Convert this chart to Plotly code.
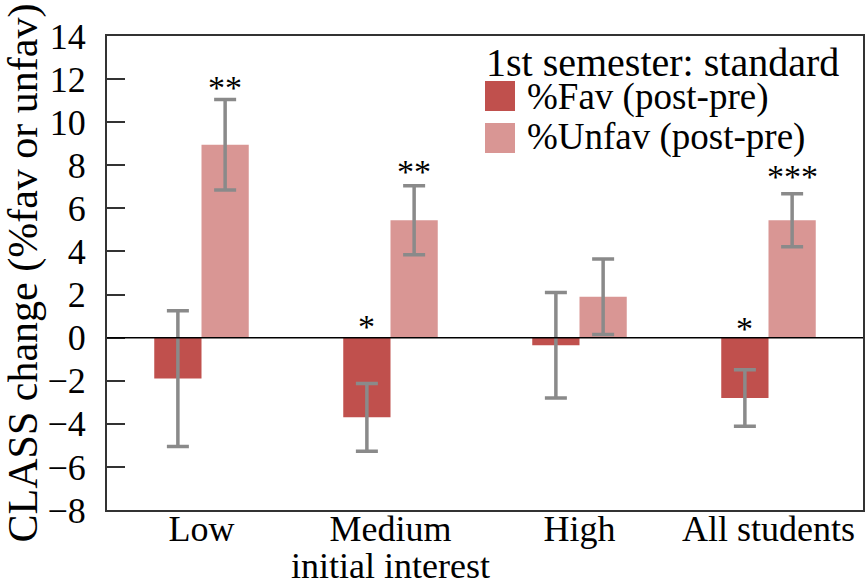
import plotly.graph_objects as go

categories = ["Low", "Medium", "High", "All students"]
category_sublabel = "initial interest"
sublabel_category = "Medium"
fav_values = [-1.9, -3.7, -0.35, -2.8]
fav_errors = [3.15, 1.57, 2.45, 1.31]
unfav_values = [8.95, 5.45, 1.9, 5.45]
unfav_errors = [2.1, 1.6, 1.75, 1.23]
fav_stars = ["", "*", "", "*"]
unfav_stars = ["**", "**", "", "***"]
fav_star_y = [None, 0.7, None, 0.6]
unfav_star_y = [11.8, 7.9, None, 7.65]

series_names = ["%Fav (post-pre)", "%Unfav (post-pre)"]
legend_title = "1st semester: standard"
fav_color = "#C0504D"
unfav_color = "#D99694"
err_color = "#8A8A8A"
FONT = "Liberation Serif, Times New Roman, Times, serif"

fig = go.Figure()
fig.add_trace(go.Bar(
    x=categories, y=fav_values, name=series_names[0],
    marker=dict(color=fav_color, line=dict(width=0)),
    error_y=dict(type="data", array=fav_errors, color=err_color, thickness=3.5, width=11),
    showlegend=False,
))
fig.add_trace(go.Bar(
    x=categories, y=unfav_values, name=series_names[1],
    marker=dict(color=unfav_color, line=dict(width=0)),
    error_y=dict(type="data", array=unfav_errors, color=err_color, thickness=3.5, width=11),
    showlegend=False,
))

annotations = []
cat_px = 756 / 4.0
off = cat_px * 0.125
STAR_SHIFT = -4
for i, c in enumerate(categories):
    if fav_stars[i]:
        annotations.append(dict(x=c, y=fav_star_y[i], xref="x", yref="y", text=fav_stars[i],
                                showarrow=False, xshift=-off, yshift=STAR_SHIFT,
                                font=dict(family=FONT, size=34, color="black")))
    if unfav_stars[i]:
        annotations.append(dict(x=c, y=unfav_star_y[i], xref="x", yref="y", text=unfav_stars[i],
                                showarrow=False, xshift=off, yshift=STAR_SHIFT,
                                font=dict(family=FONT, size=34, color="black")))

# Legend (drawn manually to match large swatches)
def px_x(p):
    return (p - 107) / 756.0

def px_y(p):
    return (510 - p) / 474.0

shapes = [
    dict(type="rect", xref="paper", yref="paper", x0=px_x(485), x1=px_x(515), y0=px_y(111), y1=px_y(81),
         fillcolor=fav_color, line=dict(width=0)),
    dict(type="rect", xref="paper", yref="paper", x0=px_x(485), x1=px_x(515), y0=px_y(153), y1=px_y(123),
         fillcolor=unfav_color, line=dict(width=0)),
    dict(type="line", xref="paper", yref="y", x0=0, x1=1, y0=0, y1=0, line=dict(color="black", width=1.5)),
]
annotations.append(dict(x=px_x(484), y=px_y(62), xref="paper", yref="paper", text=legend_title,
                        showarrow=False, xanchor="left", yanchor="middle",
                        font=dict(family=FONT, size=40, color="black")))
annotations.append(dict(x=px_x(525), y=px_y(97), xref="paper", yref="paper", text=series_names[0],
                        showarrow=False, xanchor="left", yanchor="middle",
                        font=dict(family=FONT, size=37, color="black")))
annotations.append(dict(x=px_x(525), y=px_y(137), xref="paper", yref="paper", text=series_names[1],
                        showarrow=False, xanchor="left", yanchor="middle",
                        font=dict(family=FONT, size=37, color="black")))
annotations.append(dict(x=sublabel_category, y=px_y(566), xref="x", yref="paper", text=category_sublabel,
                        showarrow=False, xanchor="center", yanchor="middle",
                        font=dict(family=FONT, size=36, color="black")))

fig.update_layout(
    width=865, height=587,
    margin=dict(l=107, r=2, t=36, b=77, autoexpand=False),
    paper_bgcolor="white", plot_bgcolor="white",
    barmode="group", bargap=0.5, bargroupgap=0,
    font=dict(family=FONT, size=36, color="black"),
    shapes=shapes, annotations=annotations,
    showlegend=False,
)
fig.update_xaxes(
    showline=True, linecolor="#333333", linewidth=2, mirror=True,
    ticks="", showgrid=False, zeroline=False, automargin=False,
    ticklabelstandoff=-14,
    tickfont=dict(family=FONT, size=36, color="black"),
)
fig.update_yaxes(
    range=[-8, 14], dtick=2, tick0=0,
    showline=True, linecolor="#333333", linewidth=2, mirror=True,
    ticks="inside", ticklen=18, tickwidth=2, tickcolor="#333333",
    showgrid=False, zeroline=False, automargin=False,
    ticklabelstandoff=12,
    tickfont=dict(family=FONT, size=36, color="black"),
    title=dict(text="CLASS change (%fav or unfav)", font=dict(family=FONT, size=42, color="black"), standoff=8),
)

fig.write_html("out.html", config={"displayModeBar": False},
               post_script="document.body.style.margin='0';")
